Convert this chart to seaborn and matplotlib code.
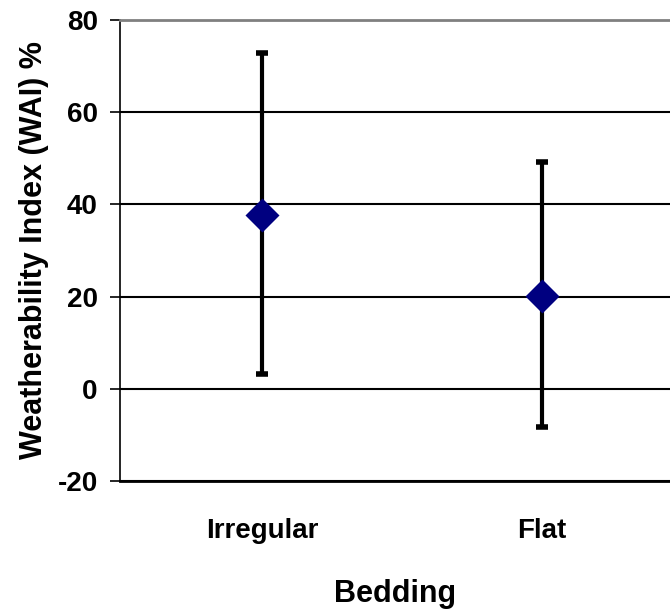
import matplotlib
matplotlib.use("Agg")
import matplotlib.pyplot as plt
import seaborn as sns
import pandas as pd

categories = ["Irregular", "Flat"]
means = [37.8, 20.1]
lower = [3.2, -8.3]
upper = [72.8, 49.2]
y_ticks = [-20, 0, 20, 40, 60, 80]

sns.set_theme(style="white")
plt.rcParams["font.family"] = ["Liberation Sans", "DejaVu Sans"]
plt.rcParams["text.color"] = "black"
plt.rcParams["axes.labelcolor"] = "black"
plt.rcParams["xtick.color"] = "black"
plt.rcParams["ytick.color"] = "black"

df = pd.DataFrame({"cat": categories, "mean": means, "lo": lower, "hi": upper})
df["x"] = range(len(df))

fig = plt.figure(figsize=(6.7, 6.12), dpi=100)
ax = fig.add_axes([120 / 670, 131 / 612, 550 / 670, 461 / 612])

ax.set_ylim(-20, 80)
ax.set_xlim(-0.507, 1.457)
ax.set_yticks(y_ticks)
ax.grid(axis="y", color="black", lw=1.5)
ax.set_axisbelow(True)

ax.errorbar(df["x"], df["mean"], yerr=[df["mean"] - df["lo"], df["hi"] - df["mean"]],
            fmt="none", ecolor="black", elinewidth=3, capsize=4.5, capthick=4, zorder=3)
sns.scatterplot(data=df, x="x", y="mean", marker="D", s=300, color="#000080",
                edgecolor="#000080", linewidth=0, ax=ax, zorder=4, legend=False)

ax.set_xticks(df["x"])
ax.set_xticklabels(categories, fontsize=20, fontweight="bold")
ax.set_yticklabels([str(t) for t in y_ticks], fontsize=20, fontweight="bold")
ax.tick_params(axis="x", length=0, pad=27)
ax.tick_params(axis="y", length=7, width=1.2, color="black", direction="out", left=True, pad=9)

ax.set_xlabel("Bedding", fontsize=22, fontweight="bold", labelpad=25)
ax.set_ylabel("Weatherability Index (WAI) %", fontsize=22, fontweight="bold", labelpad=6)

ax.spines["right"].set_visible(False)
ax.spines["top"].set_color("#808080")
ax.spines["top"].set_linewidth(2)
ax.spines["left"].set_color("black")
ax.spines["left"].set_linewidth(1.2)
ax.spines["bottom"].set_color("black")
ax.spines["bottom"].set_linewidth(2)

fig.savefig("out.png", dpi=100)
